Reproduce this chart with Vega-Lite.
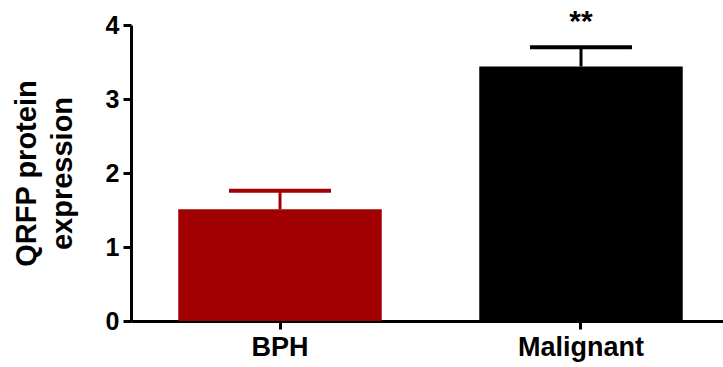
{
  "$schema": "https://vega.github.io/schema/vega-lite/v6.json",
  "autosize": {"type": "none"},
  "padding": {"left": 131, "top": 25, "right": 0, "bottom": 46},
  "width": 592,
  "height": 296,
  "background": "white",
  "config": {
    "view": {"stroke": null},
    "font": "Liberation Sans",
    "axis": {
      "domainColor": "black",
      "domainWidth": 3,
      "tickColor": "black",
      "tickWidth": 3,
      "tickSize": 8,
      "grid": false,
      "labelFont": "Liberation Sans",
      "labelFontWeight": "bold",
      "labelFontSize": 27,
      "labelColor": "black",
      "titleFont": "Liberation Sans",
      "titleFontWeight": "bold",
      "titleColor": "black"
    }
  },
  "data": {
    "values": [
      {"group": "BPH", "mean": 1.51, "upper": 1.76, "sig": ""},
      {"group": "Malignant", "mean": 3.44, "upper": 3.70, "sig": "**"}
    ]
  },
  "encoding": {
    "x": {
      "field": "group",
      "type": "nominal",
      "sort": null,
      "scale": {"paddingInner": 0.324, "paddingOuter": 0.1454, "align": 0.54},
      "axis": {"title": null, "labelAngle": 0, "labelPadding": 5}
    }
  },
  "layer": [
    {
      "mark": {"type": "rule", "strokeWidth": 3},
      "encoding": {
        "y": {"field": "mean", "type": "quantitative"},
        "y2": {"field": "upper"},
        "color": {"field": "group", "type": "nominal", "scale": {"domain": ["BPH", "Malignant"], "range": ["#A00000", "#000000"]}, "legend": null}
      }
    },
    {
      "mark": {"type": "tick", "size": 102, "thickness": 4, "opacity": 1},
      "encoding": {
        "y": {"field": "upper", "type": "quantitative"},
        "color": {"field": "group", "type": "nominal", "legend": null}
      }
    },
    {
      "mark": {"type": "bar", "opacity": 1},
      "encoding": {
        "y": {
          "field": "mean",
          "type": "quantitative",
          "scale": {"domain": [0, 4], "nice": false},
          "axis": {
            "values": [0, 1, 2, 3, 4],
            "format": "d",
            "labelFontSize": 25,
            "title": ["QRFP protein", "expression"],
            "titleFontSize": 29,
            "titleLineHeight": 36,
            "titlePadding": 28,
            "labelPadding": 4
          }
        },
        "color": {"field": "group", "type": "nominal", "legend": null}
      }
    },
    {
      "mark": {"type": "text", "fontSize": 30, "fontWeight": "bold", "baseline": "bottom", "dy": -10, "color": "black"},
      "encoding": {
        "y": {"field": "upper", "type": "quantitative"},
        "text": {"field": "sig"}
      }
    }
  ]
}
